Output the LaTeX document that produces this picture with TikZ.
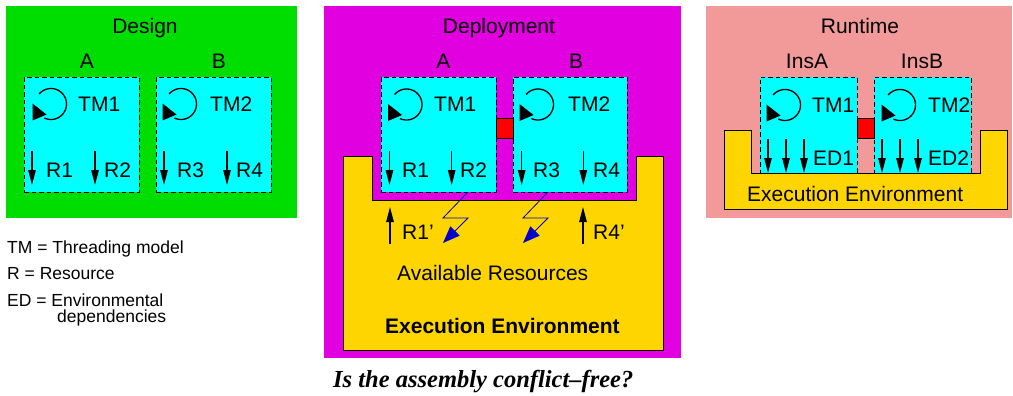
\documentclass[tikz,border=0pt]{standalone}
\usepackage{fontspec}
\setmainfont{Liberation Sans}
\newfontfamily\qfont[Ligatures=NoCommon]{Liberation Serif}
\usetikzlibrary{arrows.meta}

\definecolor{designgreen}{RGB}{0,221,0}
\definecolor{deploymagenta}{RGB}{224,0,224}
\definecolor{runtimepink}{RGB}{242,153,153}
\definecolor{envyellow}{RGB}{255,213,0}
\definecolor{compcyan}{RGB}{0,255,255}
\definecolor{boltblue}{RGB}{0,0,200}

\tikzset{
  panel/.style={draw=none, inner sep=0, outer sep=0, anchor=north west},
  comp/.style={draw=black, fill=compcyan, line width=0.9pt,
               dash pattern=on 4.5pt off 3pt, inner sep=0, anchor=north west},
  conflict/.style={draw=black, fill=red, line width=0.8pt, inner sep=0, anchor=north west,
                   minimum width=17pt, minimum height=20pt},
  envshape/.style={draw=black, fill=envyellow, line width=0.8pt},
  ttl/.style={font=\fontsize{21}{25}\selectfont, inner sep=0, anchor=base},
  lbl/.style={font=\fontsize{21}{25}\selectfont, inner sep=0, anchor=base west},
  legend/.style={font=\fontsize{17.5}{20}\selectfont, inner sep=0, anchor=base west},
  res/.style={line width=1.1pt, -{Triangle[length=15pt,width=7.5pt]}},
  bolt/.style={draw=boltblue, line width=0.8pt,
               -{Triangle[length=17pt,width=13pt]}, fill=none},
  tm/.pic={
    \draw[line width=1.3pt] plot[domain=220:475, samples=50, smooth]
      ({15.5*cos(\x)},{15.5*sin(\x)});
    \fill (-18.5,-0.5) -- (-18.5,16.5) -- (-4.5,10.5) -- cycle;
  }
}

\begin{document}
\begin{tikzpicture}[x=1pt,y=-1pt]
\useasboundingbox (0,0) rectangle (1013,396);

% ---------- panels ----------
\node[panel, fill=designgreen, minimum width=291pt, minimum height=212pt] (design) at (6,6) {};
\node[panel, fill=deploymagenta, minimum width=357pt, minimum height=352pt] (deploy) at (324,6) {};
\node[panel, fill=runtimepink, minimum width=306pt, minimum height=212pt] (runtime) at (706,6) {};

% ---------- execution environments ----------
\draw[envshape] (343,156) -- (372,156) -- (372,200) -- (636,200) -- (636,156)
  -- (663,156) -- (663,350) -- (343,350) -- cycle;
\draw[envshape] (724,130) -- (751,130) -- (751,173) -- (980,173) -- (980,130)
  -- (1007,130) -- (1007,209) -- (724,209) -- cycle;

% ---------- components ----------
\node[comp, minimum width=115pt, minimum height=115pt] (dA) at (24,77) {};
\node[comp, minimum width=115pt, minimum height=115pt] (dB) at (156,77) {};
\node[comp, minimum width=115pt, minimum height=115pt] (pA) at (381,77) {};
\node[comp, minimum width=114pt, minimum height=115pt] (pB) at (513,77) {};
\node[comp, minimum width=97pt, minimum height=96pt] (rA) at (760,77) {};
\node[comp, minimum width=97pt, minimum height=96pt] (rB) at (874,77) {};

\node[conflict] (pX) at (496,118) {};
\node[conflict] (rX) at (857,118) {};

% ---------- titles ----------
\node[ttl] (tDesign) at (145,33.5) {Design};
\node[ttl] (tDeploy) at (499,33.5) {Deployment};
\node[ttl] (tRuntime) at (860,33.5) {Runtime};

\node[ttl] (nDA) at (87,68.5) {A};
\node[ttl] (nDB) at (219,68.5) {B};
\node[ttl] (nPA) at (443.5,68.5) {A};
\node[ttl] (nPB) at (576,68.5) {B};
\node[ttl] (nRA) at (807,68.5) {InsA};
\node[ttl] (nRB) at (922,68.5) {InsB};

% ---------- threading models ----------
\pic at (51,104) {tm};
\pic at (181,104) {tm};
\pic at (406.5,104.5) {tm};
\pic at (538,104.5) {tm};
\pic at (785,105) {tm};
\pic at (900,105) {tm};

\node[lbl] (dTM1) at (78,112) {TM1};
\node[lbl] (dTM2) at (210,112) {TM2};
\node[lbl] (pTM1) at (434,112) {TM1};
\node[lbl] (pTM2) at (568,112) {TM2};
\node[lbl] (rTM1) at (812,113) {TM1};
\node[lbl] (rTM2) at (928,113) {TM2};

% ---------- required resources ----------
\node[lbl] (dR1) at (46,177.5) {R1};
\node[lbl] (dR2) at (104,177.5) {R2};
\node[lbl] (dR3) at (177,177.5) {R3};
\node[lbl] (dR4) at (236,177.5) {R4};
\node[lbl] (pR1) at (402,177.5) {R1};
\node[lbl] (pR2) at (460,177.5) {R2};
\node[lbl] (pR3) at (533,177.5) {R3};
\node[lbl] (pR4) at (593,177.5) {R4};

\foreach \x in {32,95,164,227,389.5,451.7,521.7,583.3}
  \draw[res] (\x,151) -- (\x,185);

% ---------- environmental dependencies ----------
\node[lbl] (rED1) at (813,165) {ED1};
\node[lbl] (rED2) at (928,165) {ED2};
\foreach \x in {768,786,804,882,900,918}
  \draw[res] (\x,139) -- (\x,173);

\node[lbl] (rEnv) at (747,201) {Execution Environment};

% ---------- available resources ----------
\coordinate (up1) at (390,244);
\coordinate (up1t) at (390,207);
\coordinate (up4) at (583,244);
\coordinate (up4t) at (583,207);
\draw[res] (up1) -- (up1t);
\draw[res] (up4) -- (up4t);
\node[lbl] (pR1p) at (402,239.5) {R1’};
\node[lbl] (pR4p) at (593,239.5) {R4’};

\coordinate (b1s) at (468,192);
\coordinate (b1e) at (443,243);
\coordinate (b2s) at (548,192);
\coordinate (b2e) at (523,243);
\draw[bolt] (b1s) -- (443,218) -- (468,218) -- (b1e);
\draw[bolt] (b2s) -- (523,218) -- (548,218) -- (b2e);

\node[lbl] (avail) at (397,280) {Available Resources};
\node[lbl, font=\fontsize{21}{25}\selectfont\bfseries] (pEnv) at (385,333) {Execution Environment};

\node[inner sep=0, anchor=base west, font=\qfont\fontsize{24.5}{28}\selectfont\bfseries\itshape]
  (question) at (333,387) {Is the assembly conflict–free?};

% ---------- legend ----------
\node[legend] (lg1) at (7,253.5) {TM = Threading model};
\node[legend] (lg2) at (7,279) {R = Resource};
\node[legend] (lg3) at (7,306) {ED = Environmental};
\node[legend] (lg4) at (57,322) {dependencies};

\end{tikzpicture}
\end{document}
